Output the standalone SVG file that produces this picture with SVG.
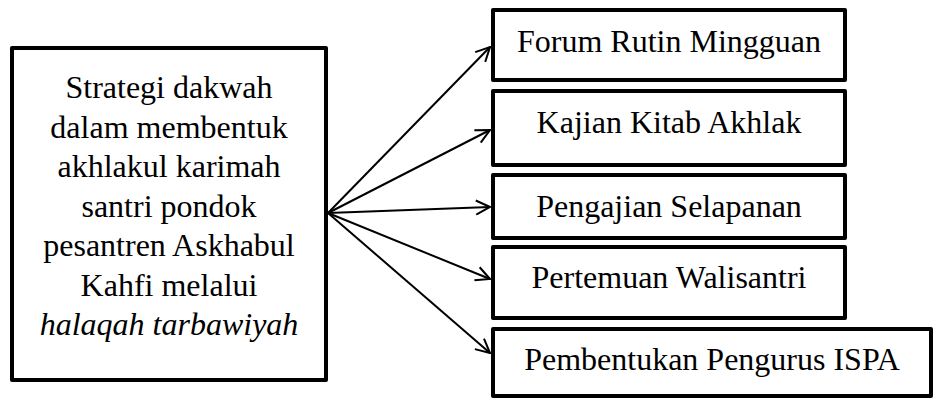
<svg xmlns="http://www.w3.org/2000/svg" width="936" height="400" viewBox="0 0 936 400">
<style>
.box{fill:#fff;stroke:#000;stroke-width:4;stroke-linejoin:round}
.t{font-family:'Liberation Serif','Times New Roman',serif;font-size:32px;fill:#000;text-anchor:middle}
.c{stroke:#000;stroke-width:2;fill:none}
</style>
<defs>
<marker id="ah" markerUnits="userSpaceOnUse" viewBox="0 0 16 16" markerWidth="16" markerHeight="16" refX="15" refY="8" orient="auto">
<path d="M1,1 L15,8 L1,15" fill="none" stroke="#000" stroke-width="2" stroke-linejoin="miter"/>
</marker>
</defs>
<rect width="936" height="400" fill="#fff"/>
<g id="main">
<rect class="box" x="12" y="48" width="314" height="332"/>
<text class="t" x="169" y="98">Strategi dakwah</text>
<text class="t" x="169" y="137.5">dalam membentuk</text>
<text class="t" x="169" y="177">akhlakul karimah</text>
<text class="t" x="169" y="216.5">santri pondok</text>
<text class="t" x="169" y="256">pesantren Askhabul</text>
<text class="t" x="169" y="295.5">Kahfi melalui</text>
<text class="t" x="169" y="335" font-style="italic">halaqah tarbawiyah</text>
</g>
<g id="n1"><rect class="box" x="493" y="10" width="352" height="70"/><text class="t" x="669" y="52">Forum Rutin Mingguan</text></g>
<g id="n2"><rect class="box" x="493" y="91" width="352" height="74"/><text class="t" x="669" y="133">Kajian Kitab Akhlak</text></g>
<g id="n3"><rect class="box" x="493" y="175" width="352" height="63"/><text class="t" x="669" y="217">Pengajian Selapanan</text></g>
<g id="n4"><rect class="box" x="493" y="247" width="352" height="71"/><text class="t" x="669" y="288">Pertemuan Walisantri</text></g>
<g id="n5"><rect class="box" x="493" y="329" width="438" height="67"/><text class="t" x="712" y="370">Pembentukan Pengurus ISPA</text></g>
<g id="connectors">
<line class="c" x1="328" y1="213" x2="490" y2="47" marker-end="url(#ah)"/>
<line class="c" x1="328" y1="213" x2="490" y2="130" marker-end="url(#ah)"/>
<line class="c" x1="328" y1="213" x2="490" y2="207" marker-end="url(#ah)"/>
<line class="c" x1="328" y1="213" x2="490" y2="279" marker-end="url(#ah)"/>
<line class="c" x1="328" y1="213" x2="490" y2="353" marker-end="url(#ah)"/>
</g>
</svg>
